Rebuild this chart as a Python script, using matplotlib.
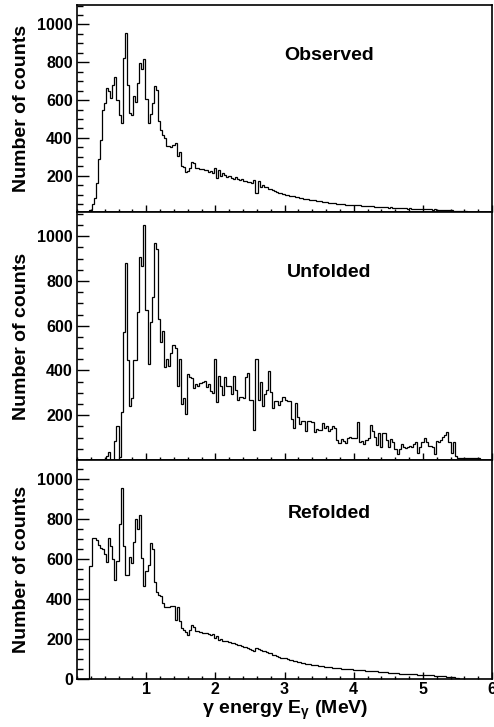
import numpy as np
import matplotlib
matplotlib.use("Agg")
import matplotlib.pyplot as plt
from matplotlib.ticker import MultipleLocator, FixedLocator

plt.rcParams['font.family'] = ['Liberation Sans', 'DejaVu Sans']
plt.rcParams['font.weight'] = 'bold'
plt.rcParams['mathtext.fontset'] = 'custom'
plt.rcParams['mathtext.rm'] = 'Liberation Sans'
plt.rcParams['mathtext.bf'] = 'Liberation Sans:bold'
plt.rcParams['mathtext.it'] = 'Liberation Sans:italic'

# histogram binning (MeV)
E_MIN, E_MAX, N_BINS = 0.0, 6.0, 200

observed = [
    5, 5, 5, 6, 6, 8, 18, 48, 80, 160,
    287, 389, 548, 583, 662, 650, 613, 678, 724, 600,
    520, 477, 821, 953, 678, 530, 521, 622, 592, 692,
    798, 763, 816, 606, 477, 527, 583, 675, 654, 489,
    442, 415, 400, 357, 357, 354, 362, 371, 304, 327,
    253, 248, 221, 225, 239, 274, 265, 239, 239, 234,
    234, 228, 232, 222, 225, 215, 242, 188, 230, 198,
    215, 205, 195, 200, 190, 185, 192, 180, 178, 182,
    170, 172, 165, 168, 160, 175, 110, 172, 140, 150,
    140, 138, 130, 128, 122, 118, 115, 110, 108, 104,
    100, 97, 95, 92, 90, 88, 86, 83, 82, 79,
    77, 75, 72, 73, 70, 67, 66, 64, 62, 61,
    60, 58, 56, 55, 53, 52, 50, 50, 48, 46,
    46, 45, 45, 44, 45, 43, 44, 41, 42, 40,
    40, 38, 39, 37, 36, 36, 34, 35, 32, 33,
    31, 32, 29, 30, 28, 29, 28, 27, 28, 26,
    27, 26, 25, 26, 24, 25, 24, 23, 24, 22,
    23, 21, 22, 20, 20, 19, 19, 18, 17, 17,
    16, 15, 14, 14, 13, 12, 12, 11, 10, 10,
    9, 9, 8, 8, 7, 0, 0, 0, 0, 0,
]

unfolded = [
    0, 0, 0, 0, 0, 0, 0, 0, 0, 0,
    0, 0, 0, 0, 17, 36, 2, 2, 84, 151,
    15, 213, 570, 880, 447, 240, 275, 445, 445, 660,
    906, 865, 1048, 670, 428, 616, 728, 970, 944, 630,
    525, 575, 415, 450, 420, 480, 515, 500, 330, 450,
    250, 275, 207, 385, 370, 365, 320, 340, 330, 345,
    350, 355, 325, 340, 310, 300, 450, 260, 375, 330,
    290, 371, 330, 330, 295, 374, 312, 270, 281, 281,
    278, 371, 389, 270, 267, 136, 453, 267, 349, 241,
    297, 312, 396, 305, 232, 262, 262, 247, 262, 281,
    268, 262, 262, 185, 141, 255, 193, 160, 175, 175,
    130, 175, 175, 170, 125, 140, 133, 133, 165, 145,
    150, 130, 140, 150, 145, 89, 75, 95, 85, 75,
    100, 103, 100, 100, 100, 170, 80, 85, 72, 88,
    100, 155, 130, 103, 67, 120, 57, 120, 120, 90,
    60, 95, 80, 50, 27, 50, 70, 60, 55, 58,
    62, 60, 70, 80, 30, 60, 80, 97, 80, 62,
    62, 60, 28, 85, 80, 89, 103, 110, 125, 80,
    30, 80, 20, 10, 7, 10, 10, 10, 10, 10,
    8, 8, 8, 8, 0, 0, 0, 0, 0, 0,
]

refolded = [
    0, 0, 0, 0, 0, 0, 565, 705, 703, 695,
    672, 655, 650, 625, 583, 703, 663, 600, 495, 592,
    775, 955, 665, 520, 520, 608, 580, 687, 798, 752,
    820, 603, 465, 540, 570, 678, 650, 487, 435, 420,
    415, 380, 362, 362, 360, 367, 365, 295, 362, 290,
    255, 245, 237, 220, 245, 270, 262, 240, 238, 235,
    232, 230, 228, 225, 220, 225, 205, 215, 195, 200,
    192, 188, 190, 185, 182, 178, 175, 170, 168, 165,
    162, 160, 155, 150, 145, 140, 155, 148, 145, 142,
    140, 136, 132, 128, 122, 118, 113, 110, 107, 104,
    103, 100, 97, 94, 91, 88, 86, 83, 80, 78,
    77, 75, 73, 71, 70, 68, 66, 65, 63, 62,
    61, 59, 58, 56, 55, 54, 53, 52, 51, 50,
    49, 48, 48, 47, 46, 46, 45, 44, 43, 42,
    42, 41, 40, 39, 38, 37, 37, 35, 34, 33,
    32, 30, 29, 28, 28, 27, 26, 26, 25, 25,
    24, 24, 23, 23, 22, 22, 21, 21, 20, 20,
    19, 18, 17, 17, 16, 15, 14, 13, 12, 10,
    9, 8, 6, 4, 2, 1, 0, 0, 0, 0,
    0, 0, 0, 0, 0, 0, 0, 0, 0, 0,
]

panel_titles = ["Observed", "Unfolded", "Refolded"]
y_label = "Number of counts"
x_ticks = [1, 2, 3, 4, 5, 6]

edges = np.linspace(E_MIN, E_MAX, N_BINS + 1)

W_PX, H_PX = 494, 727
fig = plt.figure(figsize=(W_PX / 100, H_PX / 100), dpi=100)

def rect(top, bottom, left=77, right=492):
    return [left / W_PX, 1 - bottom / H_PX, (right - left) / W_PX, (bottom - top) / H_PX]

ax1 = fig.add_axes(rect(5, 212))
ax2 = fig.add_axes(rect(212, 460))
ax3 = fig.add_axes(rect(460, 679))
axes = [ax1, ax2, ax3]
series = [observed, unfolded, refolded]
ylims = [(8, 1103), (0, 1108), (0, 1095)]
yticks = [[200, 400, 600, 800, 1000], [200, 400, 600, 800, 1000],
          [0, 200, 400, 600, 800, 1000]]

for ax, vals, yl, yt, title in zip(axes, series, ylims, yticks, panel_titles):
    ax.stairs(np.array(vals, dtype=float), edges, color='black', linewidth=0.9)
    ax.set_xlim(E_MIN, E_MAX)
    ax.set_ylim(*yl)
    ax.yaxis.set_major_locator(FixedLocator(yt))
    ax.yaxis.set_minor_locator(MultipleLocator(50))
    ax.xaxis.set_major_locator(FixedLocator(x_ticks))
    ax.xaxis.set_minor_locator(MultipleLocator(0.2))
    ax.tick_params(axis='y', which='major', direction='in', length=8.6, width=1.0,
                   labelsize=11.5, pad=3)
    ax.tick_params(axis='y', which='minor', direction='in', length=4.3, width=1.0)
    ax.tick_params(axis='x', which='major', direction='in', length=4.7, width=1.0,
                   labelsize=11.5, pad=2.5)
    ax.tick_params(axis='x', which='minor', direction='in', length=2.4, width=1.0)
    for lab in ax.get_yticklabels() + ax.get_xticklabels():
        lab.set_fontweight('bold')
    for sp in ax.spines.values():
        sp.set_linewidth(1.2)
    ax.text(0.607, 0.757, title, transform=ax.transAxes, ha='center', va='center',
            fontsize=14, fontweight='bold')

ax1.tick_params(axis='x', labelbottom=False)
ax2.tick_params(axis='x', labelbottom=False)

for top, bottom in [(5, 212), (212, 460), (460, 679)]:
    fig.text(21 / W_PX, 1 - (top + bottom) / 2 / H_PX, y_label, rotation=90,
             ha='center', va='center', fontsize=14, fontweight='bold')

fig.text(285 / W_PX, 1 - 714 / H_PX,
         r'$\mathrm{\gamma}$ energy E$_{\mathrm{\gamma}}$ (MeV)',
         ha='center', va='baseline', fontsize=14, fontweight='bold')

fig.savefig("out.png", dpi=100)
